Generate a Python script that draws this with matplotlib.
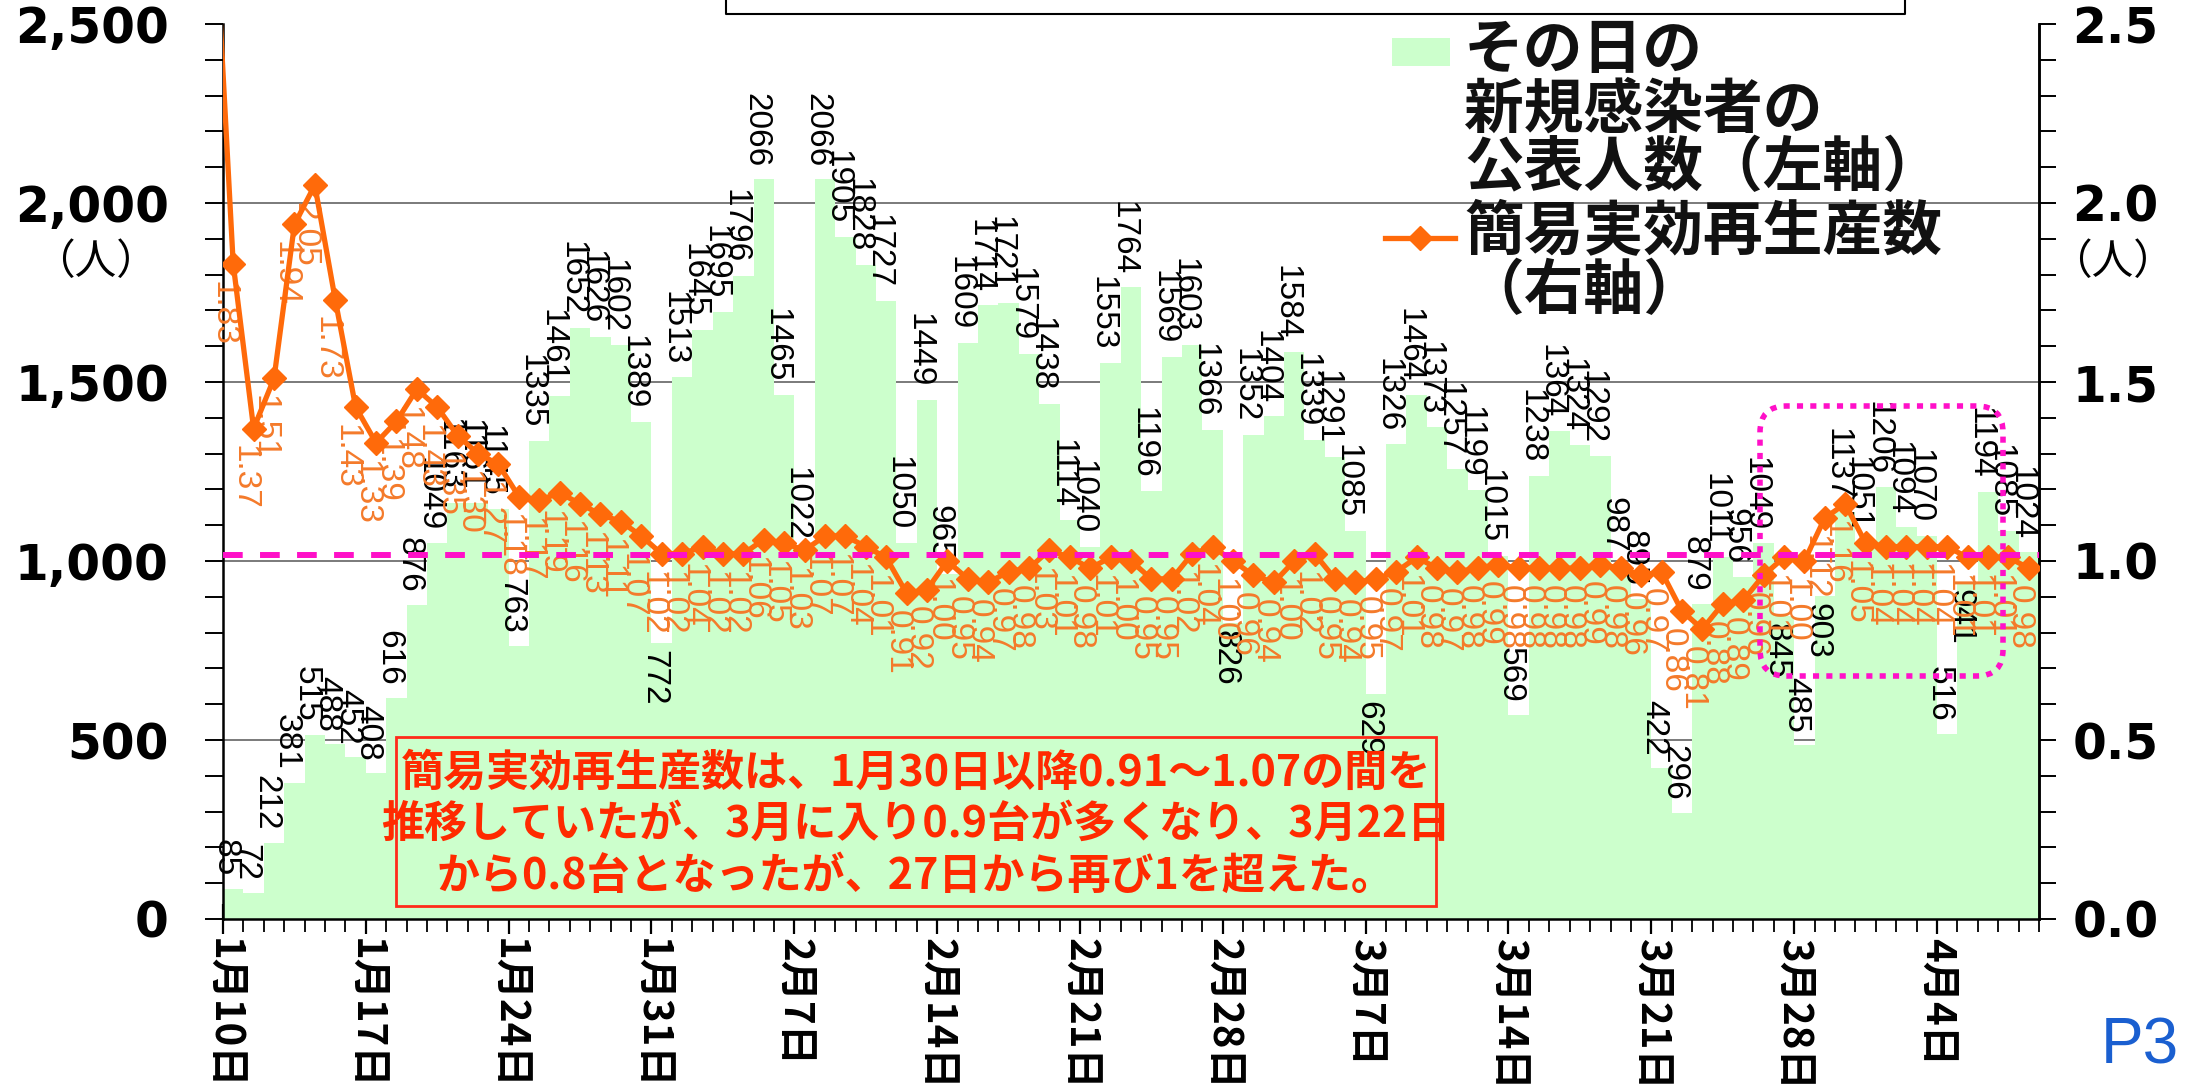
import numpy as np
import matplotlib
matplotlib.use('Agg')
import matplotlib.pyplot as plt
from matplotlib.patches import FancyBboxPatch, Rectangle
from matplotlib.lines import Line2D
from matplotlib.ticker import MultipleLocator

# ---------------- data ----------------
# daily new cases, Jan 10 .. Apr 8
cases = [85, 72, 212, 381, 515, 488, 452,
         408, 616, 876, 1049, 1163, 1161, 1145,
         763, 1335, 1461, 1652, 1626, 1602, 1389,
         772, 1513, 1645, 1695, 1796, 2066, 1465,
         1022, 2066, 1905, 1828, 1727, 1050, 1449,
         965, 1609, 1714, 1721, 1579, 1438, 1114,
         1040, 1553, 1764, 1196, 1569, 1603, 1366,
         826, 1352, 1404, 1584, 1339, 1291, 1085,
         629, 1326, 1464, 1373, 1257, 1199, 1015,
         569, 1238, 1364, 1324, 1292, 987, 895,
         422, 296, 879, 1011, 956, 1049, 845,
         485, 903, 1137, 1051, 1206, 1094, 1070,
         516, 941, 1194, 1085, 1024]

# simple effective reproduction number, Jan 10 .. Apr 8
r_values = [1.83, 1.37, 1.51, 1.94, 2.05, 1.73, 1.43,
            1.33, 1.39, 1.48, 1.43, 1.35, 1.30, 1.27,
            1.18, 1.17, 1.19, 1.16, 1.13, 1.11, 1.07,
            1.02, 1.02, 1.04, 1.02, 1.02, 1.06, 1.05,
            1.03, 1.07, 1.07, 1.04, 1.01, 0.91, 0.92,
            1.00, 0.95, 0.94, 0.97, 0.98, 1.03, 1.01,
            0.98, 1.01, 1.00, 0.95, 0.95, 1.02, 1.04,
            1.00, 0.96, 0.94, 1.00, 1.02, 0.95, 0.94,
            0.95, 0.97, 1.01, 0.98, 0.97, 0.98, 0.99,
            0.98, 0.98, 0.98, 0.98, 0.99, 0.98, 0.96,
            0.97, 0.86, 0.81, 0.88, 0.89, 0.96, 1.01,
            1.00, 1.12, 1.16, 1.05, 1.04, 1.04, 1.04,
            1.04, 1.01, 1.01, 1.01, 0.98]
r_prev = 2.90  # Jan 9 value (line enters from the left edge)

tick_labels = ['1月10日', '1月17日', '1月24日', '1月31日', '2月7日', '2月14日',
               '2月21日', '2月28日', '3月7日', '3月14日', '3月21日', '3月28日', '4月4日']
left_tick_values = [0, 500, 1000, 1500, 2000, 2500]
left_tick_labels = ['0', '500', '1,000', '1,500', '2,000', '2,500']
right_tick_values = [0.0, 0.5, 1.0, 1.5, 2.0, 2.5]
right_tick_labels = ['0.0', '0.5', '1.0', '1.5', '2.0', '2.5']

legend_bar_label = 'その日の\n新規感染者の\n公表人数（左軸）'
legend_line_label = '簡易実効再生産数\n（右軸）'
note_text = ('簡易実効再生産数は、1月30日以降0.91～1.07の間を\n'
             '推移していたが、3月に入り0.9台が多くなり、3月22日\n'
             'から0.8台となったが、27日から再び1を超えた。')
unit_label = '（人）'

# style: bars whose value label sits inside the bar top
inside_label_days = {21, 49, 56, 76, 78, 85}

# ---------------- style ----------------
CJK = ['Noto Sans CJK JP', 'DejaVu Sans']
NARROW = ['Liberation Sans Narrow', 'Liberation Sans', 'DejaVu Sans']
GREEN = '#CCFFCC'
ORANGE = '#FF6A0A'
ORANGE_TXT = '#F47A2A'
MAGENTA = '#FF10C8'

W, H = 2193, 1087
fig = plt.figure(figsize=(W / 100, H / 100), dpi=100)
L, R, T, B = 223, 2039, 24, 919
ax = fig.add_axes([L / W, 1 - B / H, (R - L) / W, (B - T) / H])

n = len(cases)
days = np.arange(n)

ax.bar(days, cases, width=1.0, align='edge', color=GREEN, edgecolor='none', zorder=2)
ax.set_xlim(0, n)
ax.set_ylim(0, 2500)
ax.set_axisbelow(True)
for v in [500, 1000, 1500, 2000]:
    ax.axhline(v, color='#7a7a7a', lw=1.4, zorder=1)

# bar value labels
for i, v in enumerate(cases):
    if i in inside_label_days:
        ax.annotate(str(v), (i + 0.1, v), xytext=(0, -5), textcoords='offset points',
                    rotation=270, ha='center', va='top', fontsize=24,
                    family=NARROW, color='black', zorder=5)
    else:
        ax.annotate(str(v), (i + 0.1, v), xytext=(0, 9), textcoords='offset points',
                    rotation=270, ha='center', va='bottom', fontsize=24,
                    family=NARROW, color='black', zorder=5)

# x axis
ax.set_xticks(range(0, n, 7)[:len(tick_labels)])
ax.set_xticklabels(tick_labels, rotation=270, fontsize=29, fontweight='bold',
                   family=CJK, ha='center', va='top')
ax.xaxis.set_minor_locator(MultipleLocator(1))
ax.tick_params(axis='x', which='major', direction='inout', length=22, width=1.6, pad=3)
ax.tick_params(axis='x', which='minor', direction='out', length=9, width=1.3)

# left y axis
ax.set_yticks(left_tick_values)
ax.set_yticklabels(left_tick_labels, fontsize=35, fontweight='bold', family='DejaVu Sans')
ax.yaxis.set_minor_locator(MultipleLocator(100))
ax.tick_params(axis='y', which='both', direction='out', length=13, width=1.4, pad=26)
for s in ['left', 'bottom', 'right']:
    ax.spines[s].set_linewidth(1.8)
ax.spines['top'].set_visible(False)

# right axis
ax2 = ax.twinx()
ax2.set_ylim(0, 2.5)
ax2.set_yticks(right_tick_values)
ax2.set_yticklabels(right_tick_labels, fontsize=35, fontweight='bold', family='DejaVu Sans')
ax2.yaxis.set_minor_locator(MultipleLocator(0.1))
ax2.tick_params(axis='y', which='both', direction='out', length=12, width=1.4, pad=12)
ax2.spines['top'].set_visible(False)
ax2.spines['right'].set_linewidth(1.8)
ax2.spines['left'].set_visible(False)
ax2.spines['bottom'].set_visible(False)

r_x = np.arange(-1, n) + 0.5
r_all = [r_prev] + r_values
ax2.plot(r_x, r_all, color=ORANGE, lw=3.8, marker='D', markersize=12.5,
         markeredgecolor=ORANGE, zorder=4, clip_on=True)

for i, v in enumerate(r_values):
    ax2.annotate(f'{v:.2f}', (i + 0.5, v), xytext=(-7, -12), textcoords='offset points',
                 rotation=270, ha='center', va='top', fontsize=24, family=NARROW,
                 color=ORANGE_TXT, zorder=3)

ax2.axhline(1.017, color=MAGENTA, lw=4.3, dashes=(3.3, 2.9), zorder=6)

# legend (manual)
ax2.add_patch(Rectangle((0.6437, 0.953), 0.032, 0.031, transform=ax2.transAxes,
                        facecolor=GREEN, edgecolor='none', zorder=7, clip_on=False))
ax2.text(0.6834, 1.003, legend_bar_label, transform=ax2.transAxes, ha='left', va='top',
         fontsize=43, family=CJK, fontweight='bold', linespacing=0.98, color='#111111', zorder=7)
ax2.add_line(Line2D([0.6398, 0.6784], [0.761, 0.761], transform=ax2.transAxes,
                    color=ORANGE, lw=3.8, zorder=7))
ax2.add_line(Line2D([0.6591], [0.761], transform=ax2.transAxes, marker='D', markersize=12.5,
                    color=ORANGE, zorder=7))
ax2.text(0.6834, 0.800, legend_line_label, transform=ax2.transAxes, ha='left', va='top',
         fontsize=43, family=CJK, fontweight='bold', linespacing=0.98, color='#111111', zorder=7)

# note box
ax2.add_patch(Rectangle((0.0953, 0.0145), 0.5727, 0.1889, transform=ax2.transAxes,
                        facecolor='none', edgecolor='#FF2A1A', lw=2.0, zorder=7))
ax2.text(0.3816, 0.106, note_text, transform=ax2.transAxes, ha='center', va='center',
         fontsize=31, family=CJK, fontweight='bold', color='#FF2A00', linespacing=1.22,
         zorder=8)

# highlighted region (dotted rounded box)
fx0, fy0 = 1760 / W, 1 - 676 / H
fw, fh = (2003 - 1760) / W, (676 - 406) / H
box = FancyBboxPatch((fx0, fy0), fw, fh, boxstyle='round,pad=0,rounding_size=0.012',
                     mutation_aspect=W / H, transform=fig.transFigure,
                     facecolor='none', edgecolor=MAGENTA, lw=4.0, linestyle=(0, (1.1, 1.3)),
                     zorder=9)
fig.patches.append(box)

# unit labels
fig.text(95 / W, 1 - 262 / H, unit_label, ha='center', va='center', fontsize=30, family=CJK)
fig.text(2112 / W, 1 - 262 / H, unit_label, ha='center', va='center', fontsize=30, family=CJK)

# header box (cut off at top)
fig.add_artist(Line2D([726 / W, 726 / W, 1905 / W, 1905 / W],
                      [1.0, 1 - 14 / H, 1 - 14 / H, 1.0], transform=fig.transFigure,
                      color='black', lw=1.5))

# page number
fig.text(2140 / W, 1 - 1046 / H, 'P3', ha='center', va='center', fontsize=46,
         family='Liberation Sans', color='#1a5fd0')

fig.savefig('out.png', dpi=100)
